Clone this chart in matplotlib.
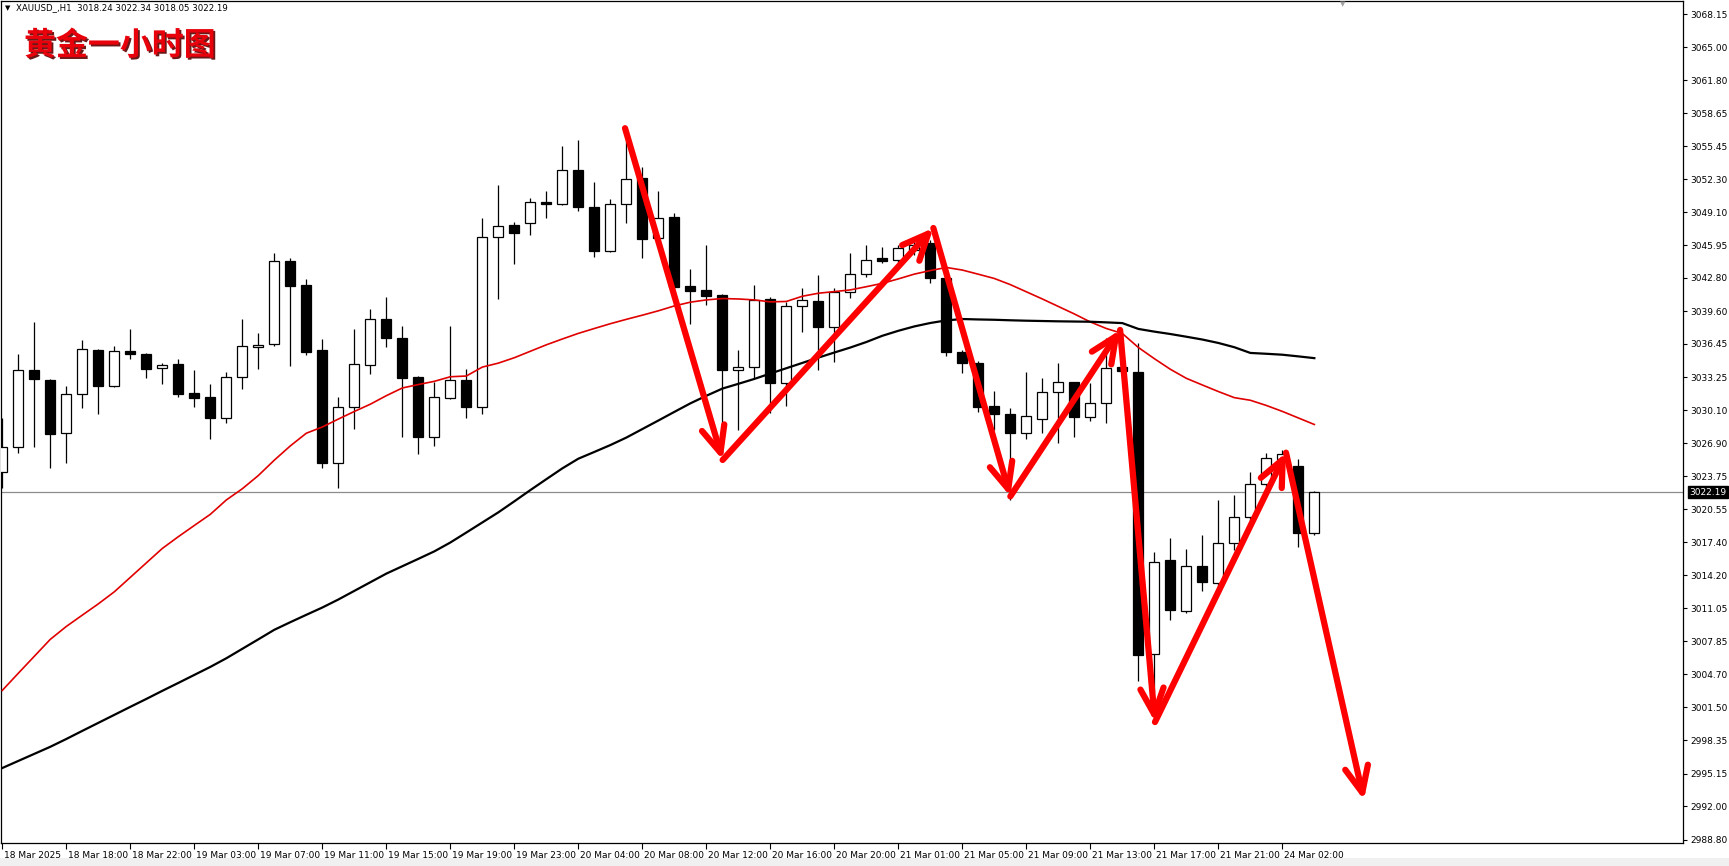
import numpy as np
import matplotlib
matplotlib.use("Agg")
import matplotlib.pyplot as plt
import matplotlib.patheffects as pe
from matplotlib.transforms import ScaledTranslation, blended_transform_factory
from matplotlib.patches import Rectangle

# XAUUSD H1 candles (bar 0 = 18 Mar 14:00)
opens = [3024.11, 3026.52, 3033.95, 3032.99, 3027.86, 3031.61, 3035.87, 3032.44, 3035.78, 3035.46,
         3034.11, 3034.52, 3031.74, 3031.35, 3029.30, 3033.25, 3036.13, 3036.42, 3044.43, 3042.12,
         3035.87, 3025.03, 3030.36, 3034.40, 3038.85, 3037.00, 3033.25, 3027.48, 3031.29, 3032.99,
         3030.36, 3046.77, 3047.89, 3048.05, 3050.13, 3049.88, 3053.18, 3049.59, 3045.42, 3049.88,
         3052.38, 3046.61, 3048.63, 3042.03, 3041.64, 3041.16, 3033.95, 3034.21, 3040.74, 3032.67,
         3040.10, 3040.58, 3038.11, 3041.47, 3043.18, 3044.69, 3044.53, 3045.50, 3046.13, 3042.77,
         3035.71, 3034.60, 3030.49, 3029.72, 3027.86, 3029.21, 3031.80, 3032.76, 3029.40, 3030.75,
         3034.27, 3033.79, 3006.61, 3015.68, 3010.81, 3015.10, 3013.50, 3017.28, 3019.84, 3022.96,
         3025.40, 3024.72, 3018.24]
highs = [3029.30, 3035.49, 3038.59, 3033.10, 3032.41, 3036.83, 3035.95, 3036.26, 3037.89, 3035.55,
         3034.59, 3034.98, 3033.95, 3032.57, 3033.79, 3038.85, 3037.53, 3045.23, 3044.69, 3042.70,
         3036.90, 3031.32, 3037.89, 3039.81, 3040.97, 3038.18, 3033.35, 3032.83, 3038.18, 3034.04,
         3048.53, 3051.74, 3048.21, 3050.45, 3051.16, 3055.49, 3056.07, 3052.06, 3050.39, 3056.00,
         3053.49, 3051.16, 3049.00, 3043.63, 3045.97, 3041.30, 3035.87, 3042.12, 3041.00, 3040.50,
         3041.80, 3043.08, 3041.80, 3045.17, 3045.97, 3045.80, 3045.97, 3046.50, 3046.45, 3043.00,
         3035.90, 3034.80, 3031.93, 3030.26, 3033.79, 3033.15, 3034.59, 3032.82, 3032.73, 3037.00,
         3037.48, 3036.55, 3016.47, 3017.82, 3016.71, 3018.08, 3021.45, 3021.93, 3024.17, 3025.94,
         3026.30, 3025.36, 3022.34]
lows = [3022.57, 3026.00, 3026.52, 3024.55, 3025.03, 3030.32, 3029.69, 3032.28, 3035.00, 3033.21,
        3032.57, 3031.38, 3030.42, 3027.29, 3028.88, 3032.12, 3034.04, 3036.30, 3034.36, 3035.39,
        3024.55, 3022.63, 3028.25, 3033.56, 3036.19, 3027.54, 3025.84, 3026.67, 3031.16, 3029.30,
        3029.72, 3040.78, 3044.14, 3046.93, 3048.60, 3049.80, 3049.27, 3044.84, 3045.33, 3048.05,
        3044.69, 3046.00, 3041.50, 3038.37, 3040.20, 3027.86, 3028.18, 3033.15, 3029.78, 3030.49,
        3037.63, 3033.95, 3034.75, 3040.84, 3042.92, 3044.20, 3044.20, 3045.00, 3042.29, 3035.30,
        3033.69, 3029.94, 3028.18, 3021.45, 3027.29, 3027.86, 3026.90, 3027.54, 3029.00, 3028.82,
        3033.50, 3004.07, 3003.00, 3009.91, 3010.55, 3012.73, 3013.00, 3016.64, 3019.30, 3022.50,
        3024.60, 3016.90, 3018.05]
closes = [3026.57, 3033.95, 3033.08, 3027.80, 3031.61, 3035.94, 3032.44, 3035.78, 3035.46, 3034.04,
          3034.40, 3031.67, 3031.29, 3029.30, 3033.25, 3036.26, 3036.36, 3044.43, 3042.05, 3035.71,
          3025.03, 3030.36, 3034.52, 3038.82, 3037.00, 3033.21, 3027.48, 3031.32, 3032.99, 3030.42,
          3046.71, 3047.80, 3047.15, 3050.10, 3049.88, 3053.18, 3049.65, 3045.42, 3049.88, 3052.28,
          3046.51, 3048.60, 3041.96, 3041.57, 3041.06, 3033.95, 3034.20, 3040.68, 3032.67, 3040.10,
          3040.68, 3038.11, 3041.47, 3043.18, 3044.53, 3044.46, 3045.65, 3046.00, 3042.77, 3035.71,
          3034.60, 3030.42, 3029.69, 3027.86, 3029.55, 3031.80, 3032.76, 3029.40, 3030.75, 3034.17,
          3033.88, 3006.55, 3015.51, 3010.87, 3015.10, 3013.59, 3017.28, 3019.78, 3022.96, 3025.46,
          3025.90, 3018.31, 3022.19]

# moving averages as drawn on the chart
ma_red = [3003.14, 3004.79, 3006.42, 3008.05, 3009.29, 3010.38, 3011.46, 3012.62, 3014.01, 3015.40,
          3016.79, 3017.92, 3019.00, 3020.07, 3021.45, 3022.53, 3023.80, 3025.28, 3026.65, 3027.87,
          3028.47, 3029.23, 3029.96, 3030.66, 3031.48, 3032.22, 3032.55, 3032.86, 3033.30, 3033.37,
          3034.23, 3034.61, 3035.13, 3035.75, 3036.37, 3036.93, 3037.47, 3037.94, 3038.40, 3038.82,
          3039.22, 3039.64, 3040.11, 3040.47, 3040.69, 3040.82, 3040.78, 3040.69, 3040.50, 3040.54,
          3041.04, 3041.33, 3041.49, 3041.65, 3041.96, 3042.28, 3042.71, 3043.17, 3043.51, 3043.81,
          3043.56, 3043.16, 3042.75, 3042.16, 3041.47, 3040.78, 3040.06, 3039.34, 3038.57, 3037.94,
          3037.46, 3036.12, 3035.04, 3034.02, 3033.15, 3032.51, 3031.88, 3031.29, 3031.04, 3030.54,
          3029.97, 3029.34, 3028.71]
ma_black = [2995.68, 2996.36, 2997.04, 2997.72, 2998.47, 2999.25, 3000.02, 3000.79, 3001.56, 3002.32,
            3003.10, 3003.86, 3004.63, 3005.40, 3006.23, 3007.14, 3008.05, 3008.97, 3009.70, 3010.41,
            3011.11, 3011.88, 3012.71, 3013.54, 3014.37, 3015.08, 3015.79, 3016.51, 3017.36, 3018.32,
            3019.29, 3020.26, 3021.32, 3022.40, 3023.45, 3024.49, 3025.42, 3026.07, 3026.73, 3027.45,
            3028.27, 3029.09, 3029.92, 3030.74, 3031.47, 3032.16, 3032.62, 3033.09, 3033.61, 3034.12,
            3034.63, 3035.14, 3035.63, 3036.11, 3036.64, 3037.24, 3037.72, 3038.14, 3038.47, 3038.72,
            3038.85, 3038.81, 3038.78, 3038.73, 3038.69, 3038.66, 3038.63, 3038.61, 3038.59, 3038.53,
            3038.46, 3037.90, 3037.64, 3037.41, 3037.15, 3036.88, 3036.55, 3036.14, 3035.59, 3035.51,
            3035.42, 3035.26, 3035.09]

# hand drawn zigzag arrows (bar index, price)
arrow_x = [38.92, 45.02, 58.19, 63.0, 69.86, 72.04, 80.23, 85.1]
arrow_p = [3057.2, 3025.3, 3047.6, 3021.8, 3037.8, 3000.1, 3026.0, 2992.6]

xtick_labels = ["18 Mar 2025", "18 Mar 18:00", "18 Mar 22:00", "19 Mar 03:00", "19 Mar 07:00",
                "19 Mar 11:00", "19 Mar 15:00", "19 Mar 19:00", "19 Mar 23:00", "20 Mar 04:00",
                "20 Mar 08:00", "20 Mar 12:00", "20 Mar 16:00", "20 Mar 20:00", "21 Mar 01:00",
                "21 Mar 05:00", "21 Mar 09:00", "21 Mar 13:00", "21 Mar 17:00", "21 Mar 21:00",
                "24 Mar 02:00"]
ytick_vals = [3068.15, 3065.00, 3061.80, 3058.65, 3055.45, 3052.30, 3049.10, 3045.95, 3042.80,
              3039.60, 3036.45, 3033.25, 3030.10, 3026.90, 3023.75, 3020.55, 3017.40, 3014.20,
              3011.05, 3007.85, 3004.70, 3001.50, 2998.35, 2995.15, 2992.00, 2988.80]
last_price = 3022.19

W, H = 1729, 866
fig = plt.figure(figsize=(W / 100, H / 100), dpi=100)
fig.patch.set_facecolor("white")
ax = fig.add_axes([1 / W, 23 / H, 1682 / W, 842 / H])

idx = np.arange(len(opens))
o = np.array(opens)
c = np.array(closes)
up = c >= o
lo = np.minimum(o, c)
hgt = np.maximum(np.abs(c - o), 0.12)

# candles
ax.vlines(idx, lows, highs, color="black", lw=0.9, zorder=2)
ax.bar(idx[up], hgt[up], bottom=lo[up], width=0.62, facecolor="white",
       edgecolor="black", lw=0.9, zorder=3)
ax.bar(idx[~up], hgt[~up], bottom=lo[~up], width=0.62, facecolor="black",
       edgecolor="black", lw=0.9, zorder=3)

# moving averages + current price line
ax.axhline(last_price, color="#8c8c8c", lw=0.9, zorder=1)
ax.plot(idx, ma_red, color="#e00000", lw=1.2, zorder=4)
ax.plot(idx, ma_black, color="black", lw=1.6, zorder=4)

# red arrows
for k in range(len(arrow_x) - 1):
    ax.annotate("", xy=(arrow_x[k + 1], arrow_p[k + 1]), xytext=(arrow_x[k], arrow_p[k]),
                arrowprops=dict(arrowstyle="->,head_length=0.85,head_width=0.38",
                                mutation_scale=22, color="#ff0000", lw=4.5,
                                shrinkA=0, shrinkB=0, capstyle="round", joinstyle="round"),
                zorder=6)

ax.set_xlim(-0.08, 105.04)
ax.set_ylim(2988.47, 3069.43)

# axes / ticks
ax.yaxis.tick_right()
ax.set_yticks(ytick_vals)
ax.set_yticklabels([f"{v:.2f}" for v in ytick_vals])
ax.set_xticks(np.arange(0, 81, 4))
ax.set_xticklabels(xtick_labels)
ax.tick_params(axis="y", direction="out", length=3, width=0.8, labelsize=6.5, pad=2)
ax.tick_params(axis="x", direction="out", length=4, width=0.8, labelsize=6.5, pad=1.5)
for lab in ax.get_xticklabels():
    lab.set_ha("left")
    lab.set_transform(lab.get_transform() + ScaledTranslation(1 / 72, 0, fig.dpi_scale_trans))
for sp in ax.spines.values():
    sp.set_color("black")
    sp.set_linewidth(0.9)

# price box on the right scale
tr = blended_transform_factory(ax.transAxes, ax.transData)
ax.text(1.0, last_price, "3022.19", transform=tr + ScaledTranslation(4.5 / 72, 0, fig.dpi_scale_trans),
        color="white", fontsize=6.5, va="center", ha="left", clip_on=False, zorder=10,
        bbox=dict(boxstyle="square,pad=0.15", fc="black", ec="black"))

# header texts
fig.text(5 / W, 1 - 8 / H, "\u25bc", fontsize=5, va="center", ha="left")
fig.text(16 / W, 1 - 8 / H, "XAUUSD_,H1  3018.24 3022.34 3018.05 3022.19", fontsize=6.2,
         va="center", ha="left")
fig.text(1343 / W, 1 - 4 / H, "\u25bc", fontsize=5, color="#a0a0a0", va="center", ha="center")
fig.text(24 / W, 1 - 46 / H, "黄金一小时图", family=["Noto Sans CJK SC", "DejaVu Sans"],
         fontweight="bold", fontsize=23, color="#e8000b", va="center", ha="left",
         path_effects=[pe.withSimplePatchShadow(offset=(1.3, -1.3), shadow_rgbFace="#5a0000", alpha=0.9)])

# grey strip at the bottom of the window
fig.patches.append(Rectangle((0, 0), 1, 8 / H, transform=fig.transFigure,
                             facecolor="#f0f0f0", edgecolor="none", zorder=-1))

fig.savefig("out.png", dpi=100, facecolor="white")
